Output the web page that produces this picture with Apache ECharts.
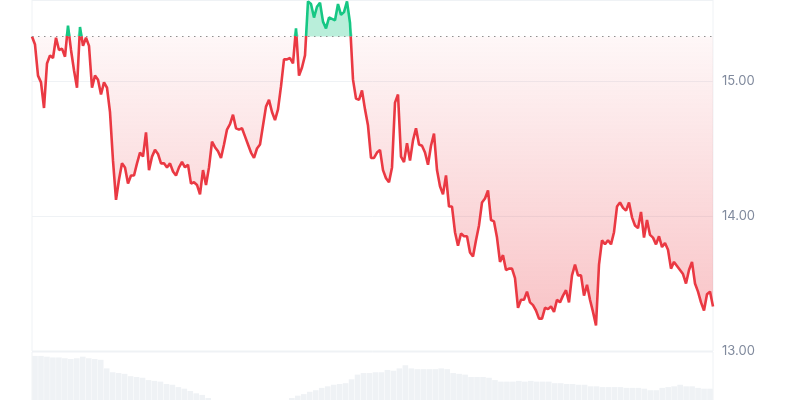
<!DOCTYPE html>
<html><head><meta charset="utf-8">
<script src="https://cdn.jsdelivr.net/npm/echarts/dist/echarts.min.js"></script>
<style>html,body{margin:0;padding:0;background:#fff}#c{width:800px;height:400px}</style>
</head><body><div id="c"></div>
<script>
const prices = [
15.33,15.27,15.04,14.99,14.80,15.13,15.19,15.17,15.32,15.23,15.24,15.18,15.41,15.23,15.08,14.95,15.40,15.26,15.32,15.26,
14.95,15.04,15.01,14.90,14.99,14.95,14.77,14.41,14.12,14.27,14.39,14.36,14.24,14.30,14.30,14.39,14.47,14.44,14.62,14.34,
14.44,14.49,14.46,14.39,14.39,14.36,14.39,14.33,14.30,14.36,14.40,14.36,14.38,14.24,14.25,14.23,14.16,14.34,14.23,14.36,
14.55,14.51,14.48,14.43,14.53,14.64,14.68,14.75,14.65,14.64,14.65,14.59,14.53,14.47,14.43,14.50,14.53,14.67,14.81,14.86,
14.77,14.71,14.79,14.96,15.16,15.16,15.17,15.13,15.39,15.04,15.10,15.19,15.59,15.57,15.47,15.55,15.58,15.44,15.39,15.47,
15.46,15.45,15.57,15.49,15.51,15.59,15.43,15.01,14.87,14.86,14.93,14.79,14.67,14.43,14.43,14.47,14.49,14.34,14.28,14.25,
14.36,14.84,14.90,14.44,14.40,14.54,14.41,14.56,14.65,14.53,14.52,14.47,14.38,14.52,14.61,14.34,14.22,14.16,14.30,14.07,
14.07,13.88,13.78,13.87,13.85,13.85,13.73,13.70,13.82,13.93,14.10,14.13,14.19,13.97,13.96,13.84,13.66,13.71,13.60,13.61,
13.61,13.54,13.32,13.38,13.38,13.44,13.36,13.34,13.30,13.24,13.24,13.32,13.31,13.33,13.29,13.38,13.36,13.41,13.45,13.36,
13.56,13.64,13.56,13.56,13.41,13.49,13.38,13.29,13.19,13.64,13.82,13.79,13.82,13.79,13.88,14.07,14.10,14.06,14.04,14.10,
13.99,13.93,13.91,14.03,13.84,13.97,13.86,13.84,13.79,13.85,13.77,13.80,13.75,13.61,13.66,13.63,13.60,13.57,13.50,13.60,
13.66,13.50,13.44,13.36,13.30,13.42,13.44,13.33
];
const volumes = [
95,95,94,93,93,92,91,92,94,92,91,90,79,74,73,72,69,68,67,64,
63,62,59,58,55,53,50,47,45,41,37,33,31,28,26,24,23,24,26,28,
31,33,36,41,44,46,49,51,54,56,58,59,60,65,71,73,73,74,74,77,
76,79,83,79,78,78,78,78,79,78,73,72,71,68,68,68,67,64,62,62,
62,63,62,63,62,62,62,60,60,59,59,58,58,56,56,55,55,55,55,54,
54,54,53,51,51,54,55,56,58,56,56,54,53,53
];
const yTicks = [13, 14, 15];
const base = prices[0];
const RED = '#ea3943', GREEN = '#16c784';

const idx = prices.map((_, i) => i);
const vidx = volumes.map((_, i) => i);
const below = prices.map(v => Math.min(v, base));
const above = prices.map(v => Math.max(v, base));

const chart = echarts.init(document.getElementById('c'));
chart.setOption({
  animation: false,
  grid: [
    {left: 32, right: 87, top: 0, height: 351, show: true, borderColor: '#eff2f5', borderWidth: 1,
     outerBoundsMode: 'none', containLabel: false},
    {left: 32, right: 87, top: 352, height: 78, show: true, borderColor: '#eff2f5', borderWidth: 1,
     outerBoundsMode: 'none', containLabel: false}
  ],
  xAxis: [
    {type: 'category', gridIndex: 0, data: idx, boundaryGap: false, show: false},
    {type: 'category', gridIndex: 1, data: vidx, boundaryGap: true, show: false}
  ],
  yAxis: [
    {type: 'value', gridIndex: 0, position: 'right', min: yTicks[0], max: 15.6, interval: 1,
     axisLine: {show: false}, axisTick: {show: false},
     splitLine: {lineStyle: {color: '#eff2f5', width: 1}},
     axisLabel: {color: '#808a9d', fontSize: 13, fontFamily: 'Inter, sans-serif', margin: 9,
                 showMaxLabel: false, formatter: v => v.toFixed(2)}},
    {type: 'value', gridIndex: 1, min: 0, max: 100, show: false}
  ],
  series: [
    {type: 'bar', xAxisIndex: 1, yAxisIndex: 1, data: volumes, barCategoryGap: '6%',
     itemStyle: {color: '#eff2f5'}, silent: true},
    {type: 'line', xAxisIndex: 0, yAxisIndex: 0, data: below, symbol: 'none', silent: true, z: 1,
     lineStyle: {width: 0},
     areaStyle: {origin: base, opacity: 1, color: new echarts.graphic.LinearGradient(0, 0, 0, 1, [
       {offset: 0, color: 'rgba(234,57,67,0.04)'}, {offset: 1, color: 'rgba(234,57,67,0.30)'}])}},
    {type: 'line', xAxisIndex: 0, yAxisIndex: 0, data: above, symbol: 'none', silent: true, z: 1,
     lineStyle: {width: 0},
     areaStyle: {origin: base, opacity: 1, color: 'rgba(22,199,132,0.30)'}},
    {id: 'price', type: 'line', xAxisIndex: 0, yAxisIndex: 0, data: prices, symbol: 'none', z: 3,
     lineStyle: {width: 2.6, color: RED},
     markLine: {silent: true, symbol: ['none', 'none'], label: {show: false},
       lineStyle: {type: [1.5, 4.5], color: '#8f8f8f', width: 1},
       data: [{yAxis: base}]}}
  ]
});
// colour the line green above the opening price and red below, at the axis position of the baseline
const h = chart.getHeight();
const yb = chart.convertToPixel({yAxisIndex: 0}, base);
const off = Math.max(0, Math.min(1, yb / h));
chart.setOption({series: [{id: 'price', lineStyle: {color: new echarts.graphic.LinearGradient(0, 0, 0, h, [
  {offset: 0, color: GREEN}, {offset: off, color: GREEN},
  {offset: off, color: RED}, {offset: 1, color: RED}], true)}}]});
</script>
</body></html>
